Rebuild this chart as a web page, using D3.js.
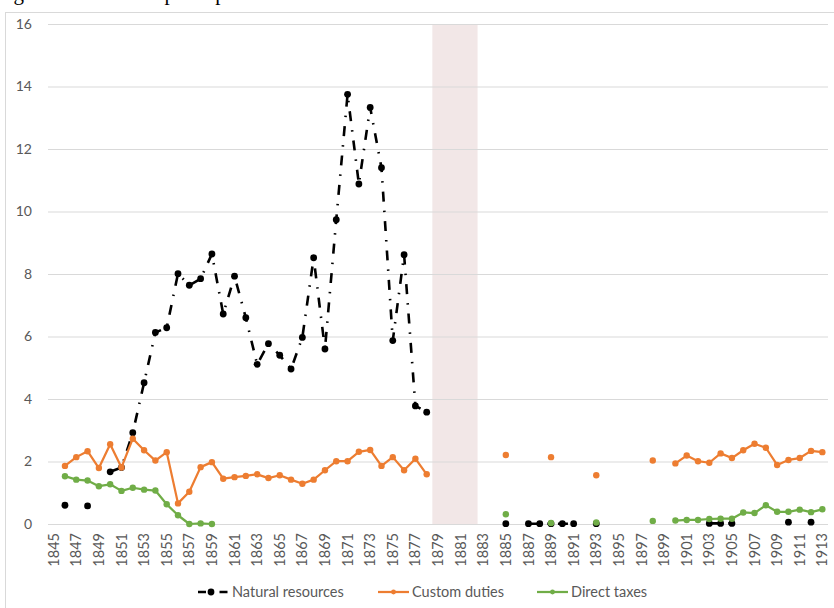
<!DOCTYPE html>
<html>
<head>
<meta charset="utf-8">
<script src="https://cdn.jsdelivr.net/npm/d3@7"></script>
<style>
  body { margin: 0; background: #fff; }
  svg { display: block; }
</style>
</head>
<body>
<div id="wrapper"></div>
<script>
const years = [1845, 1846, 1847, 1848, 1849, 1850, 1851, 1852, 1853, 1854,
  1855, 1856, 1857, 1858, 1859, 1860, 1861, 1862, 1863, 1864,
  1865, 1866, 1867, 1868, 1869, 1870, 1871, 1872, 1873, 1874,
  1875, 1876, 1877, 1878, 1879, 1880, 1881, 1882, 1883, 1884,
  1885, 1886, 1887, 1888, 1889, 1890, 1891, 1892, 1893, 1894,
  1895, 1896, 1897, 1898, 1899, 1900, 1901, 1902, 1903, 1904,
  1905, 1906, 1907, 1908, 1909, 1910, 1911, 1912, 1913]

// one value per year, null = no data
const naturalResources = [null, 0.6, null, 0.58, null, 1.67, 1.81, 2.92, 4.52, 6.13,
  6.28, 8.01, 7.64, 7.85, 8.64, 6.72, 7.93, 6.6, 5.11, 5.77,
  5.4, 4.96, 5.97, 8.52, 5.6, 9.74, 13.75, 10.88, 13.33, 11.4,
  5.87, 8.62, 3.78, 3.58, null, null, null, null, null, null,
  0.01, null, 0.01, 0.01, 0.01, 0.01, 0.01, null, 0.01, null,
  null, null, null, null, null, null, null, null, 0.02, 0.02,
  0.02, null, null, null, null, 0.06, null, 0.06, null]

const customDuties = [null, 1.86, 2.14, 2.33, 1.79, 2.55, 1.81, 2.73, 2.36, 2.03,
  2.30, 0.66, 1.03, 1.82, 1.98, 1.45, 1.50, 1.54, 1.59, 1.47,
  1.56, 1.42, 1.29, 1.42, 1.72, 2.01, 2.01, 2.31, 2.37, 1.86,
  2.14, 1.72, 2.09, 1.59, null, null, null, null, null, null,
  2.21, null, null, null, 2.14, null, null, null, 1.56, null,
  null, null, null, 2.03, null, 1.94, 2.19, 2.01, 1.96, 2.26,
  2.11, 2.36, 2.57, 2.44, 1.89, 2.05, 2.11, 2.34, 2.30]

const directTaxes = [null, 1.53, 1.42, 1.39, 1.21, 1.27, 1.06, 1.16, 1.10, 1.07,
  0.63, 0.28, 0.0, 0.02, 0.0, null, null, null, null, null,
  null, null, null, null, null, null, null, null, null, null,
  null, null, null, null, null, null, null, null, null, null,
  0.31, null, null, null, 0.03, null, null, null, 0.05, null,
  null, null, null, 0.10, null, 0.11, 0.13, 0.13, 0.16, 0.17,
  0.17, 0.37, 0.35, 0.6, 0.39, 0.39, 0.46, 0.38, 0.47]

const shadedYears = [1879, 1880, 1881, 1882]
const yTicks = [0, 2, 4, 6, 8, 10, 12, 14, 16]
const seriesNames = ['Natural resources', 'Custom duties', 'Direct taxes']

function renderChart (wrapper) {
  const width = 834
  const height = 608
  const margin = { top: 24, right: 6, bottom: 84, left: 48 }
  const font = 'Lato, "Noto Sans", sans-serif'
  const textColor = '#595959'
  const gridColor = '#d9d9d9'

  const svg = d3.select(wrapper).append('svg')
    .attr('width', width)
    .attr('height', height)

  // title, mostly cut off at the top
  svg.append('text')
    .attr('x', -4).attr('y', 0)
    .style('font-family', '"Liberation Serif", "DejaVu Serif", serif')
    .style('font-size', '21px')
    .attr('fill', '#000')
    .text('Figure 3: Revenues per capita')

  // chart frame
  svg.append('rect')
    .attr('x', 5.5).attr('y', 12.5)
    .attr('width', 840).attr('height', 620)
    .attr('fill', 'none')
    .attr('stroke', gridColor)

  const x = d3.scaleBand()
    .domain(years)
    .range([margin.left, width - margin.right])
    .padding(0)
  const y = d3.scaleLinear()
    .domain([0, 16])
    .range([height - margin.bottom, margin.top])
  const cx = d => x(d) + x.bandwidth() / 2

  // shaded period
  const first = shadedYears[0]
  const last = shadedYears[shadedYears.length - 1]
  svg.append('rect')
    .attr('x', x(first))
    .attr('y', y(16))
    .attr('width', x(last) + x.bandwidth() - x(first))
    .attr('height', y(0) - y(16))
    .attr('fill', '#f2e7e7')

  // y axis with gridlines
  const yAxis = svg.append('g')
    .attr('transform', 'translate(' + margin.left + ',0)')
    .call(d3.axisLeft(y).tickValues(yTicks)
      .tickSize(-(width - margin.left - margin.right))
      .tickPadding(16))
  yAxis.select('.domain').remove()
  yAxis.selectAll('line').attr('stroke', gridColor).attr('stroke-width', 1.2)
  yAxis.selectAll('text')
    .attr('fill', textColor)
    .style('font-family', font)
    .style('font-size', '14px')

  // x axis labels
  const xAxis = svg.append('g')
    .attr('transform', 'translate(0,' + y(0) + ')')
    .call(d3.axisBottom(x).tickValues(years.filter((d, i) => i % 2 === 0))
      .tickSize(0))
  xAxis.select('.domain').remove()
  xAxis.selectAll('text')
    .attr('fill', textColor)
    .style('font-family', font)
    .style('font-size', '14.5px')
    .attr('text-anchor', 'end')
    .attr('transform', 'rotate(-90)')
    .attr('x', -9)
    .attr('y', 0)
    .attr('dy', '0.35em')

  const series = [
    { name: seriesNames[0], values: naturalResources, color: '#000000', width: 2.6, dash: '10,9,1.5,9', r: 3.4 },
    { name: seriesNames[1], values: customDuties, color: '#ED7D31', width: 2.25, dash: null, r: 3.2 },
    { name: seriesNames[2], values: directTaxes, color: '#70AD47', width: 2.25, dash: null, r: 3.2 },
  ]

  const line = d3.line()
    .defined(d => d.v !== null)
    .x(d => cx(d.year))
    .y(d => y(d.v))

  series.forEach(s => {
    const pts = years.map((year, i) => ({ year, v: s.values[i] }))
    const g = svg.append('g')
    g.append('path')
      .datum(pts)
      .attr('d', line)
      .attr('fill', 'none')
      .attr('stroke', s.color)
      .attr('stroke-width', s.width)
      .attr('stroke-dasharray', s.dash)
      .attr('stroke-linejoin', 'round')
    g.selectAll('circle')
      .data(pts.filter(d => d.v !== null))
      .enter().append('circle')
      .attr('cx', d => cx(d.year))
      .attr('cy', d => y(d.v))
      .attr('r', s.r)
      .attr('fill', s.color)
  })

  // legend
  const legendY = 592
  const legendX = [198, 378, 537]
  series.forEach((s, i) => {
    const lg = svg.append('g').attr('transform', 'translate(' + legendX[i] + ',' + legendY + ')')
    lg.append('line')
      .attr('x1', 0).attr('x2', 31)
      .attr('stroke', s.color)
      .attr('stroke-width', s.width)
      .attr('stroke-dasharray', s.dash ? '8,6,1.5,6' : null)
    lg.append('circle')
      .attr('cx', i === 0 ? 13 : 15.5)
      .attr('r', i === 0 ? 3.4 : 2.4)
      .attr('fill', s.color)
    lg.append('text')
      .attr('x', 34)
      .attr('dy', '0.35em')
      .attr('fill', textColor)
      .style('font-family', font)
      .style('font-size', '14.5px')
      .text(s.name)
  })
}

document.addEventListener('DOMContentLoaded', () => {
  renderChart(document.querySelector('#wrapper'))
})
</script>
</body>
</html>
